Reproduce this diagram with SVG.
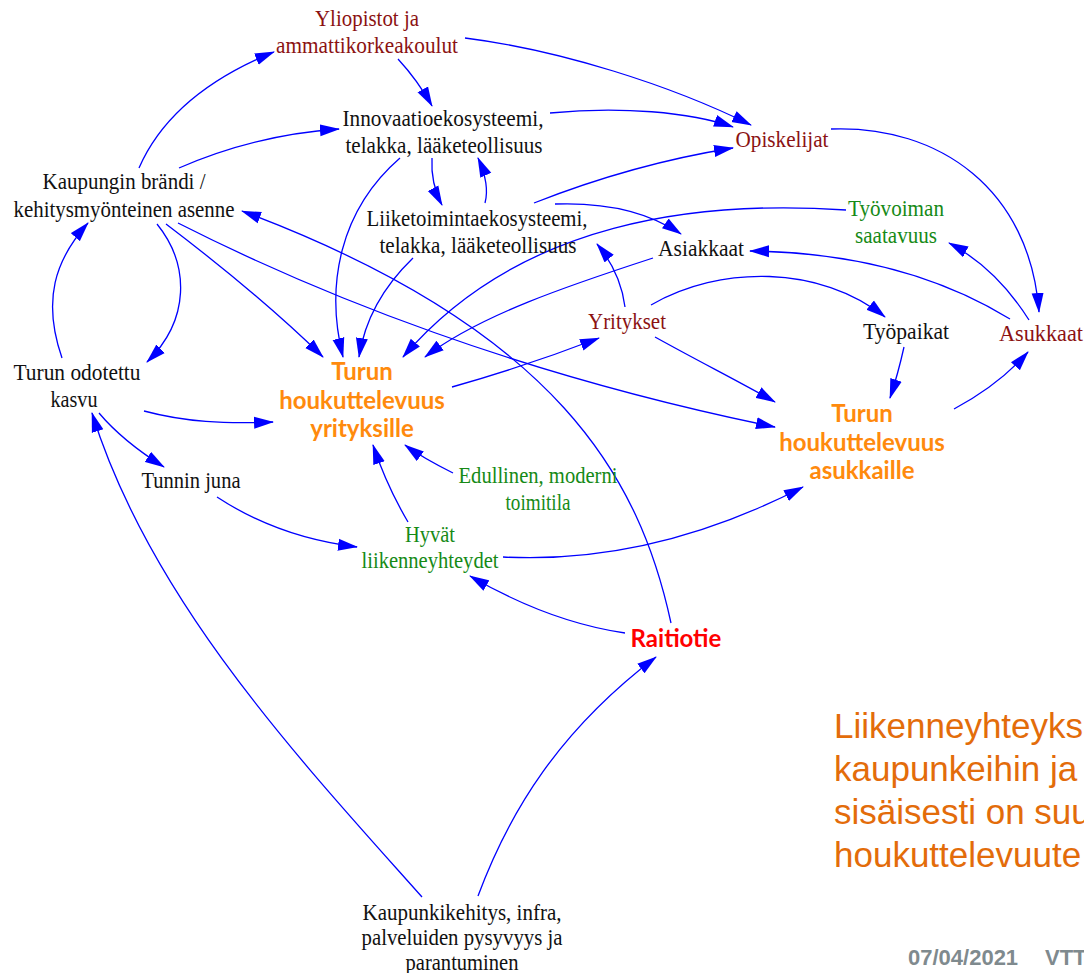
<svg xmlns="http://www.w3.org/2000/svg" width="1084" height="973" viewBox="0 0 1084 973">
  <style>
    .t { font-family: "Liberation Serif", "Times New Roman", serif; font-size: 23px; text-anchor: middle; fill: #111; }
    .dr { fill: #8B1212; }
    .gr { fill: #168A16; }
    .b { font-family: Lato, "Open Sans", sans-serif; font-weight: bold; font-size: 24px; text-anchor: middle; fill: #FF8A0D; }
    .red { fill: #FF0000; }
    .e { fill: none; stroke: #0000FF; stroke-width: 1.3; marker-end: url(#ah); }
    .note { font-family: "Liberation Sans", Arial, sans-serif; font-size: 35px; fill: #E36C0A; }
    .foot { font-family: "Liberation Sans", Arial, sans-serif; font-size: 22px; font-weight: bold; fill: #7F8A8E; }
  </style>
  <defs>
    <marker id="ah" markerUnits="userSpaceOnUse" markerWidth="20" markerHeight="13" refX="19" refY="6.5" orient="auto">
      <path d="M0,0.5 L20,6.5 L0,12.5 z" fill="#0000FF"/>
    </marker>
  </defs>
  <rect width="1084" height="973" fill="#FFFFFF"/>

  <!-- causal links -->
  <g id="connectors">
    <path class="e" d="M139,168 C160,120 205,80 274,52"/>
    <path class="e" d="M179,168 C225,148 280,133 339,129"/>
    <path class="e" d="M398,59 C410,72 422,88 432,106"/>
    <path class="e" d="M465,38 C560,50 670,85 751,125"/>
    <path class="e" d="M550,113 C620,106 690,112 733,127"/>
    <path class="e" d="M534,203 C600,177 670,158 733,148"/>
    <path class="e" d="M831,129 C940,125 1030,190 1039,312"/>
    <path class="e" d="M432,158 C431,175 434,190 442,205"/>
    <path class="e" d="M485,203 C488,192 487,178 478,158"/>
    <path class="e" d="M555,204 C610,202 650,213 681,234"/>
    <path class="e" d="M846,210 C700,200 520,220 403,357"/>
    <path class="e" d="M653,258 C570,285 480,315 425,357"/>
    <path class="e" d="M1010,319 C930,270 840,252 750,251"/>
    <path class="e" d="M1029,320 C1010,290 985,262 949,243"/>
    <path class="e" d="M625,307 C622,283 612,262 597,244"/>
    <path class="e" d="M651,305 C720,265 820,265 885,317"/>
    <path class="e" d="M655,337 C700,362 740,382 775,402"/>
    <path class="e" d="M904,347 C900,365 896,380 890,398"/>
    <path class="e" d="M954,409 C980,395 1005,378 1028,352"/>
    <path class="e" d="M452,387 C505,372 555,355 599,338"/>
    <path class="e" d="M166,224 C220,265 275,310 323,357"/>
    <path class="e" d="M178,223 C320,295 520,375 775,427"/>
    <path class="e" d="M157,224 C190,265 190,320 147,362"/>
    <path class="e" d="M62,358 C42,300 55,260 88,223"/>
    <path class="e" d="M400,158 C340,210 325,285 343,357"/>
    <path class="e" d="M413,258 C385,285 365,318 359,357"/>
    <path class="e" d="M671,623 C640,480 560,330 242,211"/>
    <path class="e" d="M144,411 C185,422 225,424 273,422"/>
    <path class="e" d="M99,413 C115,432 140,452 164,467"/>
    <path class="e" d="M217,497 C255,522 300,540 357,547"/>
    <path class="e" d="M408,522 C395,500 383,475 373,445"/>
    <path class="e" d="M453,473 C437,465 420,456 405,445"/>
    <path class="e" d="M503,557 C600,562 700,540 803,487"/>
    <path class="e" d="M625,633 C570,625 520,605 470,576"/>
    <path class="e" d="M478,896 C510,810 560,730 656,657"/>
    <path class="e" d="M422,897 C300,760 150,600 92,413"/>
  </g>

  <g id="yliopistot">
    <text class="t dr" x="367" y="26" textLength="104" lengthAdjust="spacingAndGlyphs">Yliopistot ja</text>
    <text class="t dr" x="367" y="53" textLength="182" lengthAdjust="spacingAndGlyphs">ammattikorkeakoulut</text>
  </g>
  <g id="innovaatio">
    <text class="t" x="443" y="126" textLength="201" lengthAdjust="spacingAndGlyphs">Innovaatioekosysteemi,</text>
    <text class="t" x="444" y="153" textLength="197" lengthAdjust="spacingAndGlyphs">telakka, lääketeollisuus</text>
  </g>
  <g id="opiskelijat">
    <text class="t dr" x="782" y="147" textLength="93" lengthAdjust="spacingAndGlyphs">Opiskelijat</text>
  </g>
  <g id="brandi">
    <text class="t" x="124" y="189" textLength="163" lengthAdjust="spacingAndGlyphs">Kaupungin brändi /</text>
    <text class="t" x="124" y="217" textLength="221" lengthAdjust="spacingAndGlyphs">kehitysmyönteinen asenne</text>
  </g>
  <g id="liiketoiminta">
    <text class="t" x="477" y="226" textLength="221" lengthAdjust="spacingAndGlyphs">Liiketoimintaekosysteemi,</text>
    <text class="t" x="478" y="253" textLength="197" lengthAdjust="spacingAndGlyphs">telakka, lääketeollisuus</text>
  </g>
  <g id="tyovoima">
    <text class="t gr" x="896" y="216" textLength="96" lengthAdjust="spacingAndGlyphs">Työvoiman</text>
    <text class="t gr" x="896" y="243" textLength="82" lengthAdjust="spacingAndGlyphs">saatavuus</text>
  </g>
  <g id="asiakkaat">
    <text class="t" x="701" y="256" textLength="86" lengthAdjust="spacingAndGlyphs">Asiakkaat</text>
  </g>
  <g id="yritykset">
    <text class="t dr" x="627" y="329" textLength="78" lengthAdjust="spacingAndGlyphs">Yritykset</text>
  </g>
  <g id="tyopaikat">
    <text class="t" x="906" y="339" textLength="86" lengthAdjust="spacingAndGlyphs">Työpaikat</text>
  </g>
  <g id="asukkaat">
    <text class="t dr" x="1041" y="341" textLength="84" lengthAdjust="spacingAndGlyphs">Asukkaat</text>
  </g>
  <g id="kasvu">
    <text class="t" x="77" y="380" textLength="127" lengthAdjust="spacingAndGlyphs">Turun odotettu</text>
    <text class="t" x="74" y="407" textLength="47" lengthAdjust="spacingAndGlyphs">kasvu</text>
  </g>
  <g id="houkutus-yritykset">
    <text class="b" x="362" y="380">Turun</text>
    <text class="b" x="362" y="409">houkuttelevuus</text>
    <text class="b" x="362" y="437">yrityksille</text>
  </g>
  <g id="houkutus-asukkaat">
    <text class="b" x="862" y="422">Turun</text>
    <text class="b" x="862" y="451">houkuttelevuus</text>
    <text class="b" x="862" y="479">asukkaille</text>
  </g>
  <g id="tunnin-juna">
    <text class="t" x="191" y="488" textLength="99" lengthAdjust="spacingAndGlyphs">Tunnin juna</text>
  </g>
  <g id="toimitila">
    <text class="t gr" x="538" y="483" textLength="159" lengthAdjust="spacingAndGlyphs">Edullinen, moderni</text>
    <text class="t gr" x="538" y="510" textLength="65" lengthAdjust="spacingAndGlyphs">toimitila</text>
  </g>
  <g id="liikenneyhteydet">
    <text class="t gr" x="430" y="542" textLength="50" lengthAdjust="spacingAndGlyphs">Hyvät</text>
    <text class="t gr" x="430" y="568" textLength="137" lengthAdjust="spacingAndGlyphs">liikenneyhteydet</text>
  </g>
  <g id="raitiotie">
    <text class="b red" x="676" y="647">Raitiotie</text>
  </g>
  <g id="kaupunkikehitys">
    <text class="t" x="462" y="920" textLength="199" lengthAdjust="spacingAndGlyphs">Kaupunkikehitys, infra,</text>
    <text class="t" x="462" y="945" textLength="201" lengthAdjust="spacingAndGlyphs">palveluiden pysyvyys ja</text>
    <text class="t" x="462" y="970" textLength="113" lengthAdjust="spacingAndGlyphs">parantuminen</text>
  </g>

  <!-- slide note and footer -->
  <g id="note">
    <text class="note" x="834" y="738">Liikenneyhteyks</text>
    <text class="note" x="834" y="781">kaupunkeihin ja</text>
    <text class="note" x="834" y="824">sisäisesti on suu</text>
    <text class="note" x="834" y="867">houkuttelevuute</text>
  </g>
  <g id="footer">
    <text class="foot" x="908" y="965">07/04/2021</text>
    <text class="foot" x="1045" y="965">VTT</text>
  </g>
</svg>
